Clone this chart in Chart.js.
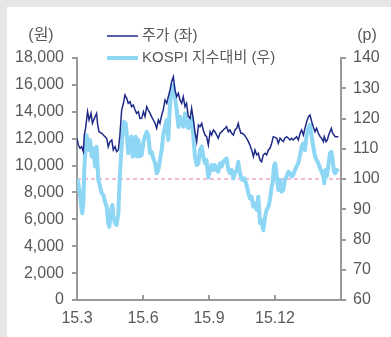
<!DOCTYPE html>
<html><head><meta charset="utf-8">
<script src="https://cdn.jsdelivr.net/npm/chart.js@4.4.1/dist/chart.umd.min.js"></script>
<style>
html,body{margin:0;padding:0;background:#fff;}
#wrap{width:384px;height:330px;border-top:7px solid #e6e6e6;border-left:7px solid #e6e6e6;background:#fff;}
canvas{display:block;}
</style></head>
<body><div id="wrap"><canvas id="c" width="384" height="330"></canvas></div>
<script>
// months since 2015-03 (x positions of readings)
const priceMonths = [0.00,0.06,0.14,0.21,0.29,0.33,0.39,0.48,0.55,0.64,0.70,0.79,0.89,0.94,1.00,1.12,1.20,1.27,1.35,1.42,1.50,1.58,1.65,1.73,1.80,1.88,1.95,2.03,2.11,2.18,2.26,2.33,2.41,2.48,2.56,2.64,2.71,2.79,2.86,2.94,3.02,3.09,3.17,3.24,3.32,3.39,3.47,3.55,3.62,3.70,3.77,3.85,3.92,4.00,4.08,4.15,4.23,4.30,4.38,4.45,4.53,4.61,4.68,4.76,4.83,4.91,4.98,5.06,5.14,5.21,5.29,5.36,5.44,5.52,5.59,5.67,5.74,5.82,5.89,5.97,6.05,6.12,6.20,6.27,6.35,6.42,6.50,6.58,6.65,6.73,6.80,6.88,6.95,7.03,7.11,7.18,7.26,7.33,7.38,7.45,7.51,7.61,7.71,7.79,7.86,7.94,8.02,8.09,8.17,8.24,8.32,8.39,8.47,8.55,8.62,8.70,8.77,8.85,8.92,9.00,9.08,9.15,9.23,9.30,9.38,9.45,9.53,9.61,9.68,9.76,9.83,9.91,9.98,10.06,10.14,10.21,10.29,10.36,10.44,10.52,10.59,10.67,10.74,10.82,10.89,10.97,11.05,11.12,11.20,11.24,11.32,11.38,11.44,11.50,11.56,11.62,11.68,11.74,11.80,11.88];
const priceValues = [12030,11530,11280,11400,11030,12270,12770,14010,13390,13880,13140,13510,13880,13020,12520,12400,12270,12150,12030,11400,11780,11900,11160,11400,11030,11160,12270,14130,14630,15250,15000,14630,14750,14380,14500,14130,13880,14010,13500,13510,14010,13640,14380,14130,13880,13640,13390,13140,12770,13390,13140,13760,14130,14880,14630,15120,15620,16240,16610,15620,15120,15370,14880,14630,15120,14380,14630,13640,13510,14260,13390,12520,11780,13020,12890,13140,12650,12270,12150,11530,12520,12270,12650,12520,12270,12030,12400,12520,12650,12770,12890,12520,12650,12400,12270,12650,12770,13140,12770,12400,12400,12270,12030,11780,11530,11160,10660,11160,10790,10910,10410,10290,10790,10910,10790,11160,11280,11650,12150,12100,12030,11650,12030,11900,11780,12030,12150,12030,11900,12030,11900,12030,12150,11900,12400,12650,12270,12770,13260,13640,13760,13260,12890,12520,12770,12400,12150,12030,11780,12150,11780,11900,12270,12520,12770,12400,12270,12150,12150,12150];

const relMonths = [0.00,0.06,0.14,0.21,0.24,0.29,0.33,0.39,0.44,0.52,0.59,0.67,0.74,0.82,0.89,0.97,1.05,1.12,1.20,1.27,1.35,1.42,1.47,1.55,1.61,1.65,1.73,1.80,1.88,1.92,1.98,2.06,2.14,2.21,2.27,2.33,2.41,2.48,2.53,2.61,2.67,2.73,2.79,2.86,2.94,3.02,3.09,3.17,3.24,3.32,3.39,3.47,3.55,3.62,3.70,3.77,3.85,3.92,4.00,4.08,4.15,4.23,4.30,4.38,4.45,4.53,4.61,4.68,4.76,4.83,4.91,4.98,5.06,5.14,5.21,5.29,5.36,5.44,5.52,5.59,5.67,5.74,5.82,5.89,5.97,6.05,6.12,6.20,6.27,6.35,6.42,6.50,6.58,6.65,6.73,6.80,6.88,6.95,7.03,7.11,7.18,7.26,7.33,7.38,7.45,7.51,7.61,7.71,7.79,7.86,7.94,8.02,8.09,8.17,8.24,8.32,8.39,8.47,8.55,8.62,8.70,8.77,8.85,8.89,8.95,9.01,9.08,9.15,9.23,9.30,9.38,9.45,9.53,9.61,9.68,9.76,9.83,9.91,9.98,10.06,10.14,10.21,10.29,10.36,10.44,10.52,10.59,10.67,10.74,10.82,10.89,10.97,11.05,11.12,11.20,11.24,11.29,11.35,11.42,11.50,11.56,11.62,11.68,11.74,11.80,11.88];
const relValues = [100.2,98.6,94.7,89.8,88.7,92.0,103.0,110.7,114.5,109.6,112.9,107.4,110.1,104.1,110.7,99.7,97.5,95.3,94.7,92.5,90.8,85.4,84.2,89.8,91.4,87.5,85.4,84.8,88.7,96.4,105.2,114.0,118.9,118.4,114.0,108.5,112.9,114.0,107.4,108.5,114.0,107.4,112.9,107.5,107.9,112.3,114.0,115.6,114.5,108.5,109.0,106.8,105.2,101.9,103.0,106.3,109.6,114.5,117.3,119.5,112.9,125.0,129.4,131.1,127.2,122.8,117.3,120.6,118.4,117.3,121.7,117.9,116.8,119.5,120.1,114.0,107.4,104.6,105.2,109.6,110.7,107.4,105.2,106.3,100.5,103.0,104.6,103.0,104.6,103.0,102.4,105.2,104.1,105.7,106.3,106.8,103.0,101.9,103.0,100.2,101.9,103.0,105.7,103.0,100.8,99.7,100.2,98.0,95.3,93.6,94.1,90.8,92.0,89.8,94.1,85.4,86.4,83.1,87.5,89.8,90.8,93.1,97.5,98.6,104.1,105.2,100.8,96.4,99.7,95.8,96.4,99.7,100.8,102.4,101.9,100.8,101.3,103.0,104.1,105.2,107.9,110.7,111.8,109.6,114.5,116.8,117.9,114.0,110.7,107.4,106.3,105.2,103.5,102.4,100.8,98.6,103.0,100.8,104.1,108.5,109.0,106.3,102.4,101.9,103.0,102.4];

const refMonths = [0, 12];
const refValues = [100, 100];

const xTickMonths = [0, 3, 6, 9];
const xTickLabels = ['15.3', '15.6', '15.9', '15.12'];

const seriesNames = ['주가 (좌)', 'KOSPI 지수대비 (우)'];
const leftUnit = '(원)';
const rightUnit = '(p)';

const FONT = "'Liberation Sans', 'Noto Sans CJK KR', sans-serif";
const TXT = '#595959';
const AXIS = '#9a9a9a';
const DARK = '#1f2a88';
const LIGHT = '#8dd6f4';
const PINK = '#e87aad';

Chart.defaults.font.family = FONT;
Chart.defaults.font.size = 16;
Chart.defaults.color = TXT;

const pts = (xs, ys) => xs.map((x, i) => ({x: x, y: ys[i]}));

const decor = {
  id: 'decor',
  afterDraw(chart) {
    const ctx = chart.ctx;
    const xs = chart.scales.x;
    const bottom = chart.chartArea.bottom;
    ctx.save();
    // inward x ticks
    ctx.strokeStyle = AXIS;
    ctx.lineWidth = 2;
    xTickMonths.forEach(m => {
      const px = Math.round(xs.getPixelForValue(m));
      ctx.beginPath();
      ctx.moveTo(px, bottom);
      ctx.lineTo(px, bottom - 5);
      ctx.stroke();
    });
    // units
    ctx.fillStyle = TXT;
    ctx.font = '16px ' + FONT;
    ctx.textBaseline = 'middle';
    ctx.textAlign = 'center';
    ctx.fillText(leftUnit, 34, 29);
    ctx.fillText(rightUnit, 360, 29);
    // legend
    const items = [
      {label: seriesNames[0], color: DARK, w: 1.5, y: 29},
      {label: seriesNames[1], color: LIGHT, w: 4, y: 51}
    ];
    ctx.font = '15px ' + FONT;
    ctx.textAlign = 'left';
    items.forEach(it => {
      ctx.strokeStyle = it.color;
      ctx.lineWidth = it.w;
      ctx.beginPath();
      ctx.moveTo(100, it.y);
      ctx.lineTo(131, it.y);
      ctx.stroke();
      ctx.fillStyle = TXT;
      ctx.fillText(it.label, 135, it.y);
    });
    ctx.restore();
  }
};

new Chart(document.getElementById('c'), {
  type: 'line',
  data: {
    datasets: [
      {label: seriesNames[0], data: pts(priceMonths, priceValues), yAxisID: 'y',
       borderColor: DARK, borderWidth: 1.5, pointRadius: 0, tension: 0, fill: false},
      {label: seriesNames[1], data: pts(relMonths, relValues), yAxisID: 'y1',
       borderColor: LIGHT, borderWidth: 4, pointRadius: 0, tension: 0, fill: false, borderJoinStyle: 'round'},
      {label: 'ref', data: pts(refMonths, refValues), yAxisID: 'y1',
       borderColor: PINK, borderWidth: 1, borderDash: [4, 3], pointRadius: 0, fill: false}
    ]
  },
  options: {
    responsive: false,
    animation: false,
    layout: {padding: {top: 51, left: 0, right: 0, bottom: 0}},
    plugins: {legend: {display: false}, tooltip: {enabled: false}, title: {display: false}},
    scales: {
      x: {
        type: 'linear', min: 0, max: 12,
        afterBuildTicks: s => { s.ticks = xTickMonths.map(v => ({value: v})); },
        afterFit: s => { s.height = 37; },
        ticks: {autoSkip: false, maxRotation: 0, padding: 9,
          callback: (v) => { const i = xTickMonths.indexOf(v); return i >= 0 ? xTickLabels[i] : ''; }},
        grid: {display: false, drawTicks: false},
        border: {display: true, color: AXIS, width: 2}
      },
      y: {
        position: 'left', min: 0, max: 18000,
        afterFit: s => { s.width = 70; },
        ticks: {stepSize: 2000, padding: 8,
          callback: v => v.toLocaleString('en-US')},
        grid: {drawOnChartArea: false, drawTicks: true, tickLength: 5, color: AXIS, lineWidth: 2},
        border: {display: true, color: AXIS, width: 2}
      },
      y1: {
        position: 'right', min: 60, max: 140,
        afterFit: s => { s.width = 50; },
        ticks: {stepSize: 10, padding: 7},
        grid: {drawOnChartArea: false, drawTicks: true, tickLength: 5, color: AXIS, lineWidth: 2},
        border: {display: true, color: AXIS, width: 2}
      }
    }
  },
  plugins: [decor]
});
</script>
</body></html>
